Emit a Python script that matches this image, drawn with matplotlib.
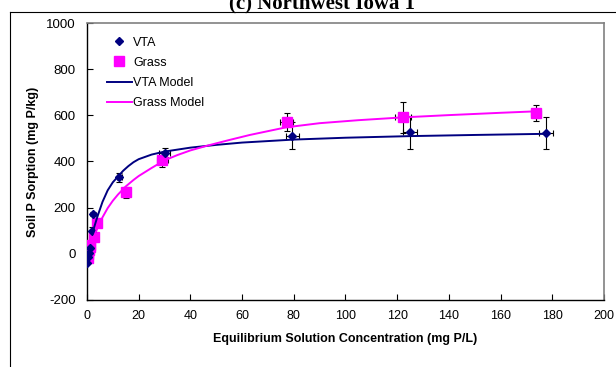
import numpy as np
import matplotlib.pyplot as plt
from matplotlib.lines import Line2D

# VTA measured sorption (mean, with error bars)
vta_c = [0.2, 0.4, 0.7, 1.0, 2.0, 2.2, 12.5, 30.0, 79.5, 125.0, 177.4]
vta_s = [-40, -15, 5, 25, 101, 172, 332, 437, 511, 526, 523]
vta_cerr = [0.2, 0.2, 0.2, 0.2, 0.3, 0.3, 1.0, 2.0, 2.4, 2.8, 2.7]
vta_serr = [5, 5, 5, 5, 15, 10, 20, 20, 58, 70, 68]

# Grass measured sorption
grass_c = [0.3, 0.5, 0.7, 1.0, 1.3, 2.8, 3.9, 15.0, 29.2, 77.2, 122.3, 173.8]
grass_s = [-20, 0, 15, 30, 40, 72, 133, 266, 407, 570, 592, 610]
grass_cerr = [0.1, 0.1, 0.1, 0.1, 0.1, 0.3, 0.3, 1.5, 2.0, 2.5, 3.0, 2.0]
grass_serr = [5, 5, 5, 5, 5, 8, 8, 25, 30, 40, 67, 33]

# model curves
vta_mod_c = [2.5, 4, 6, 8, 10, 12, 14, 16, 18, 20, 25, 30, 40, 50, 60, 80, 100, 125, 150, 178]
vta_mod_s = [105, 160, 225, 275, 310, 335, 360, 380, 397, 410, 430, 443, 460, 472, 482, 495, 503, 510, 515, 520]
grass_mod_c = [2, 4, 6, 8, 10, 12, 15, 18, 20, 25, 30, 35, 40, 47, 55, 63, 77, 90, 105, 122, 140, 160, 175]
grass_mod_s = [55, 110, 158, 198, 230, 257, 292, 320, 337, 372, 405, 428, 448, 470, 493, 515, 548, 566, 579, 591, 601, 611, 618]

navy = '#000080'
magenta = '#FF00FF'

plt.rcParams['font.family'] = ['Liberation Sans', 'DejaVu Sans']
plt.rcParams['axes.unicode_minus'] = False

fig = plt.figure(figsize=(6.16, 3.67), dpi=100)
ax = fig.add_axes([0.1412, 0.1826, 0.8393, 0.7547])

# outer frame (partially cropped)
fig.add_artist(Line2D([0.016, 1.0], [0.967, 0.967], color='black', lw=0.8, transform=fig.transFigure))
fig.add_artist(Line2D([0.016, 0.016], [0.0, 0.967], color='black', lw=0.8, transform=fig.transFigure))

ax.errorbar(vta_c, vta_s, xerr=vta_cerr, yerr=vta_serr, fmt='none', ecolor='black',
            elinewidth=0.8, capsize=2.5, capthick=0.8, zorder=2)
ax.errorbar(grass_c, grass_s, xerr=grass_cerr, yerr=grass_serr, fmt='none', ecolor='black',
            elinewidth=0.8, capsize=2.5, capthick=0.8, zorder=2)

ax.plot(vta_c, vta_s, linestyle='none', marker='D', ms=4.5, color=navy, label='VTA', zorder=4)
ax.plot(grass_c, grass_s, linestyle='none', marker='s', ms=6.5, color=magenta, label='Grass', zorder=3)
ax.plot(vta_mod_c, vta_mod_s, color=navy, lw=1.4, label='VTA Model', zorder=5)
ax.plot(grass_mod_c, grass_mod_s, color=magenta, lw=1.4, label='Grass Model', zorder=5)

ax.set_xlim(0, 200)
ax.set_ylim(-200, 1000)
ax.set_xticks(np.arange(0, 201, 20))
ax.set_yticks(np.arange(-200, 1001, 200))
ax.tick_params(direction='in', length=4, width=0.8, labelsize=9.5)
ax.tick_params(axis='y', pad=8)
ax.tick_params(axis='x', pad=7, labelsize=9)

for s in ['top', 'right']:
    ax.spines[s].set_color('#808080')
    ax.spines[s].set_linewidth(1.2)
for s in ['left', 'bottom']:
    ax.spines[s].set_color('black')
    ax.spines[s].set_linewidth(1.0)

ax.set_xlabel('Equilibrium Solution Concentration (mg P/L)', fontsize=9, fontweight='bold')
ax.set_ylabel('Soil P Sorption (mg P/kg)', fontsize=9, fontweight='bold')
ax.xaxis.set_label_coords(0.5, -0.118)
ax.yaxis.set_label_coords(-0.092, 0.5)

ax.legend(loc='upper left', bbox_to_anchor=(0.0387, 0.951), frameon=False, fontsize=9,
          borderaxespad=0, borderpad=0, handlelength=2.0, handletextpad=0.08, labelspacing=0.66)

fig.text(0.523, 0.977, '(c) Northwest Iowa 1', fontsize=15, fontweight='bold',
         family='Liberation Serif', ha='center', va='baseline')

fig.savefig('out.png', dpi=100)
